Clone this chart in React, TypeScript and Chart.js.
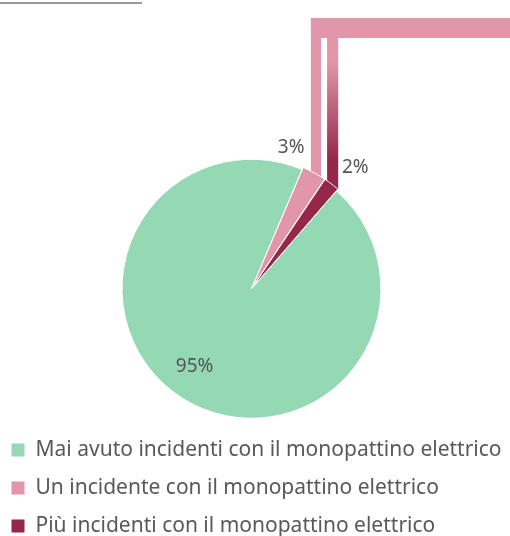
import React, { useEffect, useRef } from "react";
import { Chart, registerables } from "chart.js";

Chart.register(...registerables);

// ---- data ----
const categories = [
  "Mai avuto incidenti con il monopattino elettrico",
  "Un incidente con il monopattino elettrico",
  "Più incidenti con il monopattino elettrico",
];
const shares = [95, 3, 2];
const valueLabels = ["95%", "3%", "2%"];

// ---- style ----
const sliceColors = ["#95D9B4", "#E296A9", "#95284A"];
const sliceOffsets = [0, 5, 5];
const FONT = "'Noto Sans', 'Open Sans', sans-serif";
const TEXT_COLOR = "#555555";
const BAND_TOP = 18;
const BAND_H = 20;

type P = { x: number; y: number };

function arcGeom(arc: any, i: number) {
  const g = arc.getProps(["x", "y", "startAngle", "endAngle", "outerRadius"], true);
  const mid = (g.startAngle + g.endAngle) / 2;
  const off = sliceOffsets[i] || 0;
  const cx = g.x + Math.cos(mid) * off;
  const cy = g.y + Math.sin(mid) * off;
  const at = (a: number, r: number): P => ({ x: cx + Math.cos(a) * r, y: cy + Math.sin(a) * r });
  return { ...g, mid, cx, cy, at };
}

const lerp = (a: number, b: number, t: number) => a + (b - a) * t;

const connectorPlugin = {
  id: "connectors",
  beforeDatasetsDraw(chart: any) {
    const meta = chart.getDatasetMeta(0);
    if (!meta.data[1] || !meta.data[2]) return;
    const ctx = chart.ctx;
    const pink = arcGeom(meta.data[1], 1);
    const red = arcGeom(meta.data[2], 2);
    const ps = pink.at(pink.startAngle, pink.outerRadius);
    const pe = pink.at(pink.endAngle, pink.outerRadius);
    const rs = red.at(red.startAngle, red.outerRadius);
    const re = red.at(red.endAngle, red.outerRadius);
    const pL = lerp(ps.x, pe.x, 0.3);
    const pR = lerp(ps.x, pe.x, 0.77);
    const rL = lerp(rs.x, re.x, 0.04);
    const rR = lerp(rs.x, re.x, 0.9);
    ctx.save();
    ctx.fillStyle = sliceColors[1];
    // horizontal band
    ctx.fillRect(pL, BAND_TOP, chart.width - pL, BAND_H);
    // pink vertical bar
    const pBottom = Math.max(ps.y, pe.y) + 2;
    ctx.fillRect(pL, BAND_TOP, pR - pL, pBottom - BAND_TOP);
    // red vertical bar with gradient
    const rTop = BAND_TOP + BAND_H;
    const rBottom = Math.max(rs.y, re.y) + 2;
    const grad = ctx.createLinearGradient(0, rTop + 24, 0, rBottom - 30);
    grad.addColorStop(0, sliceColors[1]);
    grad.addColorStop(1, sliceColors[2]);
    ctx.fillStyle = grad;
    ctx.fillRect(rL, rTop, rR - rL, rBottom - rTop);
    ctx.restore();
  },
};

const labelPlugin = {
  id: "valueLabels",
  afterDatasetsDraw(chart: any) {
    const meta = chart.getDatasetMeta(0);
    const ctx = chart.ctx;
    ctx.save();
    ctx.font = `19px ${FONT}`;
    ctx.fillStyle = TEXT_COLOR;
    ctx.textBaseline = "middle";
    meta.data.forEach((arc: any, i: number) => {
      const g = arcGeom(arc, i);
      if (i === 0) {
        const p = g.at(g.mid + 0.08, g.outerRadius * 0.75);
        ctx.textAlign = "center";
        ctx.fillText(valueLabels[i], p.x + 1, p.y);
      } else if (i === 1) {
        const p = g.at(g.startAngle, g.outerRadius);
        ctx.textAlign = "right";
        ctx.fillText(valueLabels[i], p.x, p.y - 18);
      } else {
        const p = g.at(g.endAngle, g.outerRadius);
        ctx.textAlign = "left";
        ctx.fillText(valueLabels[i], p.x + 2.5, p.y - 19);
      }
    });
    ctx.restore();
  },
};

export default function App() {
  const ref = useRef<HTMLCanvasElement | null>(null);

  useEffect(() => {
    if (!ref.current) return;
    const chart = new Chart(ref.current, {
      type: "pie",
      data: {
        labels: categories,
        datasets: [
          {
            data: shares,
            backgroundColor: sliceColors,
            borderColor: "#ffffff",
            borderWidth: 1,
            offset: sliceOffsets,
            hoverOffset: 0,
          },
        ],
      },
      options: {
        responsive: false,
        animation: false,
        events: [],
        rotation: 41,
        radius: 129.5,
        layout: { padding: { left: -6, right: 7, top: 155, bottom: -10.5 } },
        plugins: {
          tooltip: { enabled: false },
          legend: {
            position: "bottom",
            align: "start",
            labels: {
              boxWidth: 14,
              boxHeight: 14,
              padding: 17,
              color: "#595959",
              font: { size: 21, family: FONT },
            },
          },
        },
      },
      plugins: [connectorPlugin, labelPlugin],
    });
    return () => chart.destroy();
  }, []);

  return (
    <div style={{ position: "absolute", left: 0, top: 0, width: 510, height: 536, overflow: "hidden", background: "#fff" }}>
      <div style={{ position: "absolute", left: 0, top: 2, width: 142, height: 2, background: "#999999" }} />
      <canvas ref={ref} width={510} height={536} style={{ position: "absolute", left: 0, top: 0, display: "block" }} />
    </div>
  );
}
